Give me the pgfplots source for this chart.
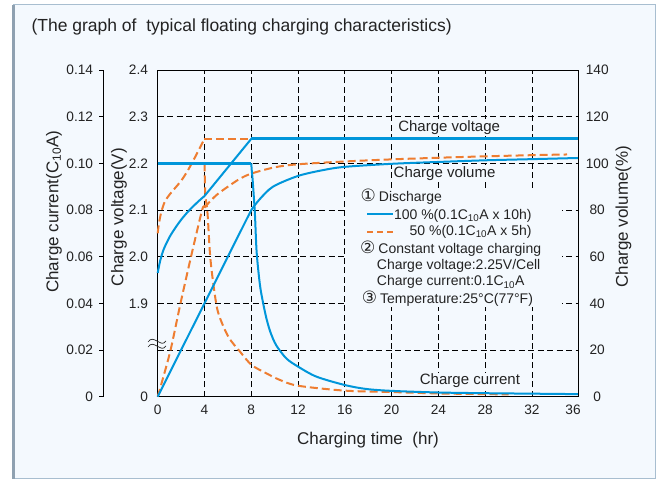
\documentclass[border=0pt]{standalone}
\usepackage{pgfplots}
\pgfplotsset{compat=1.18}
\usepackage{fontspec}
\setmainfont{Liberation Sans}
\newfontfamily\dejavu{DejaVu Sans}

\definecolor{bg}{RGB}{244,249,254}
\definecolor{boxline}{RGB}{168,190,208}
\definecolor{cblue}{RGB}{0,150,218}
\definecolor{corange}{RGB}{238,125,49}
\definecolor{txt}{RGB}{35,35,35}

\newcommand{\fs}[1]{\fontsize{#1}{#1}\selectfont}
\newcommand{\circnum}[1]{{\dejavu\fs{17}#1}}

\pgfplotsset{
  frame/.style={
    at={(157.7pt,83.3pt)}, anchor=south west,
    scale only axis, width=421pt, height=326.7pt,
    xmin=0, xmax=36,
    axis line style={black, line width=1pt},
    tick label style={font=\fs{13.7}, text=txt},
  },
}

\begin{document}
\begin{tikzpicture}[x=1pt,y=1pt]
\fill[white] (0,0) rectangle (658,480);
\fill[bg] (13,1.5) rectangle (655.5,475);
\draw[boxline, line width=1pt] (13,1.5) rectangle (655.5,475);
\draw[boxline!85!black, line width=3pt] (13.5,1.5) -- (13.5,475);

% main axis: charge volume units (0-140), voltage and current mapped onto it
\begin{axis}[frame,
  ymin=0, ymax=140,
  xtick={0,4,...,36},
  xticklabels={0,4,8,12,16,20,24,28,32,\makebox[4pt][r]{36}},
  ytick={0,20,...,140},
  yticklabels={0,{},1.9,2.0,2.1,2.2,2.3,2.4},
  major tick length=0pt,
  xmajorgrids, ymajorgrids,
  grid style={black, line width=0.8pt, dash pattern=on 6pt off 3.5pt},
  xticklabel style={anchor=north, inner sep=0pt, yshift=-8.3pt},
  yticklabel style={anchor=east, inner sep=0pt, xshift=-9.5pt},
  clip=false,
]
\fill[bg] (axis cs:16.18,38.4) rectangle (axis cs:34.6,88.5);
\node[fill=bg, inner sep=1.5pt, font=\fs{15}, text=txt] at (axis cs:24.92,115.4) {Charge voltage};
\node[fill=bg, inner sep=1.5pt, font=\fs{15}, text=txt] at (axis cs:24.53,95.7) {Charge volume};
\node[fill=bg, inner sep=1pt, font=\fs{15}, text=txt] at (axis cs:26.7,6.7) {Charge current};

% 50 % discharge (orange, dashed)
\addplot[corange, line width=2pt, dash pattern=on 8pt off 4pt, smooth, tension=0.5] coordinates {
  (0,70) (0.1,74) (0.3,79) (0.6,83.5) (1,86.5) (1.5,89.5) (2,92.5)
  (2.5,96.3) (3,100.8) (3.5,105.6) (4,110.5)};
\addplot[corange, line width=2pt, dash pattern=on 8pt off 4pt] coordinates {
  (4,110.5) (36,110.5)};
\addplot[corange, line width=2pt, dash pattern=on 8pt off 4pt] coordinates {
  (0,100) (4,100)};
\addplot[corange, line width=2pt, dash pattern=on 8pt off 4pt, smooth, tension=0.5] coordinates {
  (4,100) (4.03,93) (4.08,86) (4.26,78.6) (4.49,60) (4.83,45.7) (5.19,35.7)
  (6.04,25.7) (7.04,19.3) (8.03,13.6) (9.3,10) (10.44,7.2) (12,4.7)
  (16,2.6) (20,2.0) (24,1.4) (28,1.1) (30,1.0)};
\addplot[corange, line width=2pt, dash pattern=on 8pt off 4pt, smooth, tension=0.5] coordinates {
  (0,0) (0.4,7) (1.1,20) (1.95,40) (2.85,60) (3.8,80) (4,81)};
\addplot[corange, line width=2pt, dash pattern=on 8pt off 4pt, smooth, tension=0.5] coordinates {
  (4,81) (4.2,82.2) (5,86.3) (6,90) (7,93.3) (8,95.6) (10,98.3) (12,99.6)
  (16,100.8) (20,101.7) (24,102.4) (28,103) (32,103.5) (35,103.8)};

% 100 % discharge (blue, solid)
\addplot[cblue, line width=2pt, smooth, tension=0.5] coordinates {
  (0,53) (0.2,58) (0.5,63) (1,68.3) (1.5,72.3) (2,75.8) (2.5,78.8)
  (3,81.4) (3.5,83.8) (4,86)};
\addplot[cblue, line width=2pt] coordinates {(4,86) (8,110.5)};
\addplot[cblue, line width=3pt] coordinates {(8,110.5) (36,110.5)};
\addplot[cblue, line width=3pt] coordinates {(0,100) (8,100)};
\addplot[cblue, line width=2pt, smooth, tension=0.5] coordinates {
  (8,100) (8.05,96.5) (8.12,92.8) (8.31,78.6) (8.46,62) (8.74,48) (9.0,40.5)
  (9.3,33.5) (9.65,27.5) (10.14,22) (11,16.4) (12,12.9) (13.57,8.6) (16,5)
  (17.85,3.3) (20,2.5) (24,1.8) (28,1.5) (32,1.3) (36,1.1)};
\addplot[cblue, line width=2pt] coordinates {(0,0) (8,80)};
\addplot[cblue, line width=2pt, smooth, tension=0.5] coordinates {
  (8,80) (8.7,84.5) (9.86,90) (12,94.6) (14.14,97.1) (16,98.5) (20,99.8)
  (24,100.6) (28,101.3) (32,101.8) (36,102.3)};
\end{axis}

% left current axis
\begin{axis}[frame, at={(103.3pt,83.3pt)},
  ymin=0, ymax=0.14,
  hide x axis, axis y line*=left,
  ytick={0,0.02,0.04,0.06,0.08,0.1,0.12,0.14},
  yticklabels={0,0.02,0.04,0.06,0.08,0.10,0.12,0.14},
  tick align=outside, major tick length=4pt,
  tick style={black, line width=1pt},
  yticklabel style={anchor=east, inner sep=0pt, xshift=-6pt},
]
\end{axis}

% right volume axis
\begin{axis}[frame,
  ymin=0, ymax=140,
  hide x axis, axis y line*=right,
  ytick={0,20,...,140},
  yticklabels={0,20,40,60,80,100,120,140},
  major tick length=0pt,
  yticklabel style={anchor=center, inner sep=0pt, xshift=18.5pt},
]
\end{axis}

% axis break
\draw[txt, line width=0.7pt] (148,138) .. controls (151,142) and (153,141) .. (157,139)
  .. controls (161,137) and (163,135) .. (166,139);
\draw[txt, line width=0.7pt] (148,133) .. controls (151,137) and (153,136) .. (157,134)
  .. controls (161,132) and (163,130) .. (166,134);

% titles
\node[anchor=west, font=\fs{17.5}, text=txt] at (28,453)
  {(The graph of\ \ typical floating charging characteristics)};
\node[rotate=90, font=\fs{17}, text=txt] at (54,268.3) {Charge current(C\textsubscript{10}A)};
\node[rotate=90, font=\fs{17}, text=txt] at (119,262.8) {Charge voltage(V)};
\node[rotate=90, font=\fs{17}, text=txt] at (623.5,263.3) {Charge volume(\%)};
\node[font=\fs{17}, text=txt] at (368,40) {Charging time\ \ (hr)};

% legend
\begin{scope}[every node/.style={font=\fs{14}, text=txt, inner sep=0pt}]
\node[anchor=west] at (360.5,283.3) {\circnum{①}\hspace{3pt}Discharge};
\draw[cblue, line width=2pt] (367.3,265.7) -- (393.3,265.7);
\node[anchor=east] at (531.7,264.3) {100 \%(0.1C\textsubscript{10}A x 10h)};
\draw[corange, line width=2pt, dash pattern=on 6pt off 4pt] (367.3,248.3) -- (393.3,248.3);
\node[anchor=east] at (531.7,248.3) {50 \%(0.1C\textsubscript{10}A x 5h)};
\node[anchor=west] at (360,231) {\circnum{②}\hspace{3pt}Constant voltage charging};
\node[anchor=west] at (376.7,214) {Charge voltage:2.25V/Cell};
\node[anchor=west] at (376.7,197.7) {Charge current:0.1C\textsubscript{10}A};
\node[anchor=west] at (361.7,181) {\circnum{③}\hspace{3pt}Temperature:25°C(77°F)};
\end{scope}
\end{tikzpicture}
\end{document}
